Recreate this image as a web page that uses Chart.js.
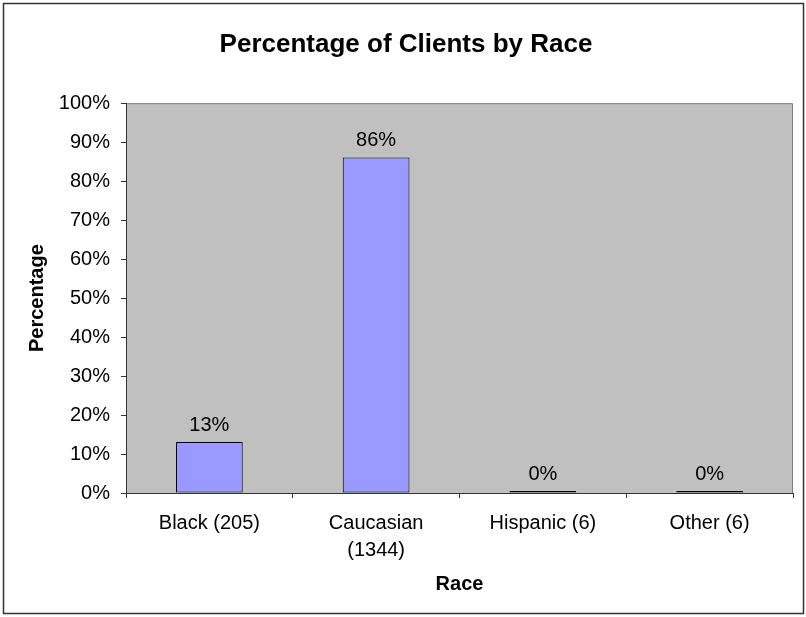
<!DOCTYPE html>
<html>
<head>
<meta charset="utf-8">
<script src="https://cdn.jsdelivr.net/npm/chart.js@4/dist/chart.umd.min.js"></script>
<style>
  body { margin: 0; background: #fff; }
  canvas { display: block; }
</style>
</head>
<body>
<canvas id="raceChart" width="806" height="617"></canvas>
<script>
const categories = ['Black (205)', ['Caucasian', '(1344)'], 'Hispanic (6)', 'Other (6)']
const percentages = [13.1, 86.1, 0.4, 0.4]
const yTicks = [0, 10, 20, 30, 40, 50, 60, 70, 80, 90, 100]

const FONT = "'Liberation Sans', Arial, sans-serif"

// plot background, outer frame
const frame = {
	id: 'frame',
	beforeDraw(chart) {
		const { ctx, chartArea: a } = chart
		ctx.save()
		ctx.fillStyle = '#fff'
		ctx.fillRect(0, 0, chart.width, chart.height)
		ctx.strokeStyle = '#333'
		ctx.lineWidth = 1.5
		ctx.strokeRect(3.5, 3.5, 800, 610)
		ctx.fillStyle = '#C0C0C0'
		ctx.fillRect(a.left, a.top, a.right - a.left, a.bottom - a.top)
		ctx.strokeStyle = '#808080'
		ctx.lineWidth = 1
		ctx.beginPath()
		ctx.moveTo(a.left, a.top + 0.5)
		ctx.lineTo(a.right - 0.5, a.top + 0.5)
		ctx.lineTo(a.right - 0.5, a.bottom)
		ctx.stroke()
		ctx.restore()
	},
}

// value labels above bars
const valueLabels = {
	id: 'valueLabels',
	afterDatasetsDraw(chart) {
		const { ctx } = chart
		const meta = chart.getDatasetMeta(0)
		ctx.save()
		ctx.font = '20px ' + FONT
		ctx.fillStyle = '#000'
		ctx.textAlign = 'center'
		ctx.textBaseline = 'alphabetic'
		meta.data.forEach((bar, i) => {
			ctx.fillText(Math.round(percentages[i]) + '%', bar.x, bar.y - 11)
		})
		ctx.restore()
	},
}

new Chart(document.getElementById('raceChart'), {
	type: 'bar',
	data: {
		labels: categories,
		datasets: [
			{
				label: 'Percentage',
				data: percentages,
				backgroundColor: '#9999FF',
				borderColor: '#000',
				borderWidth: 1,
				borderSkipped: false,
				minBarLength: 2,
				categoryPercentage: 1,
				barPercentage: 0.4,
			},
		],
	},
	options: {
		responsive: false,
		animation: false,
		devicePixelRatio: 1,
		layout: { padding: { left: 19, right: 13, top: 0, bottom: 0 } },
		plugins: {
			legend: { display: false },
			tooltip: { enabled: false },
			title: {
				display: true,
				text: 'Percentage of Clients by Race',
				color: '#000',
				font: { family: FONT, size: 26, weight: 'bold', lineHeight: 1.2 },
				padding: { top: 29, bottom: 43 },
			},
		},
		scales: {
			x: {
				grid: { offset: true, drawOnChartArea: false, tickLength: 5, color: '#333' },
				border: { color: '#333' },
				ticks: {
					color: '#000',
					font: { family: FONT, size: 20, lineHeight: 1.35 },
					padding: 12,
					maxRotation: 0,
					autoSkip: false,
				},
				title: {
					display: true,
					text: 'Race',
					color: '#000',
					font: { family: FONT, size: 20, weight: 'bold' },
					padding: { top: 0, bottom: 21 },
				},
				afterFit(scale) {
					scale.height = 124
				},
			},
			y: {
				min: 0,
				max: 100,
				grid: { drawOnChartArea: false, tickLength: 5, color: '#333' },
				border: { color: '#333' },
				afterBuildTicks(scale) {
					scale.ticks = yTicks.map(v => ({ value: v }))
				},
				ticks: {
					color: '#000',
					font: { family: FONT, size: 20 },
					padding: 11,
					callback: v => v + '%',
				},
				title: {
					display: true,
					text: 'Percentage',
					color: '#000',
					font: { family: FONT, size: 20, weight: 'bold' },
					padding: { top: 6, bottom: 0 },
				},
				afterFit(scale) {
					scale.width = 107
				},
			},
		},
	},
	plugins: [frame, valueLabels],
})
</script>
</body>
</html>
